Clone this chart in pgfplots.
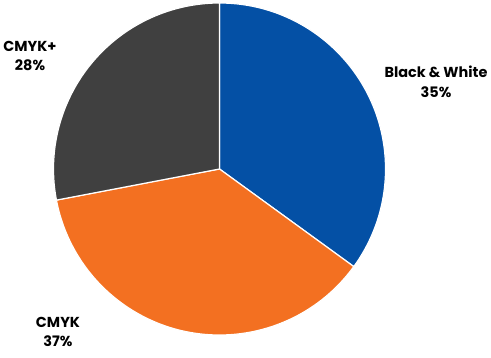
\documentclass[border=0pt]{standalone}
\usepackage{pgfplots}
\pgfplotsset{compat=1.18}
\usepackage{fontspec}
\setmainfont{Poppins}
\definecolor{bwblue}{HTML}{0450A5}
\definecolor{cmykorange}{HTML}{F37021}
\definecolor{cmykpgray}{HTML}{404040}
\begin{document}
\begin{tikzpicture}
\begin{axis}[
  width=491bp, height=354bp, scale only axis,
  xmin=0, xmax=491, ymin=0, ymax=354,
  hide axis, clip=false,
]
\path (rel axis cs:0,0) rectangle (rel axis cs:1,1);
% shares (percent)
\def\vA{35}\def\vB{37}\def\vC{28}
\pgfmathsetmacro\aA{90}
\pgfmathsetmacro\aB{90-3.6*\vA}
\pgfmathsetmacro\aC{\aB-3.6*\vB}
\pgfmathsetmacro\aD{\aC-3.6*\vC}
\def\cx{219.5}\def\cy{185}
\fill[bwblue, draw=white, line width=1.2bp] (axis cs:\cx,\cy) -- ++(\aA:166bp) arc[start angle=\aA, end angle=\aB, radius=166bp] -- cycle;
\fill[cmykorange, draw=white, line width=1.2bp] (axis cs:\cx,\cy) -- ++(\aB:166bp) arc[start angle=\aB, end angle=\aC, radius=166bp] -- cycle;
\fill[cmykpgray, draw=white, line width=1.2bp] (axis cs:\cx,\cy) -- ++(\aC:166bp) arc[start angle=\aC, end angle=\aD, radius=166bp] -- cycle;
\node[align=center, font=\fontsize{14.5}{19.5}\selectfont\bfseries, text=black] at (axis cs:436,272) {Black \& White\\35\%};
\node[align=center, font=\fontsize{14.5}{19.5}\selectfont\bfseries, text=black] at (axis cs:30,298) {CMYK+\\28\%};
\node[align=center, font=\fontsize{14.5}{19.5}\selectfont\bfseries, text=black] at (axis cs:58,22) {CMYK\\37\%};
\end{axis}
\end{tikzpicture}
\end{document}
